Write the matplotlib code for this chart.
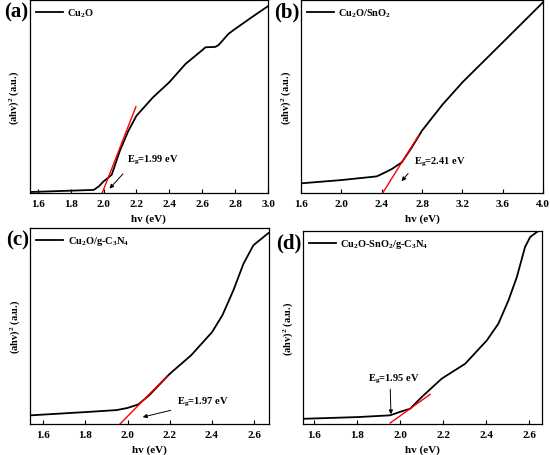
import numpy as np
import matplotlib
matplotlib.use("Agg")
import matplotlib.pyplot as plt

plt.rcParams['font.family'] = ['Liberation Serif', 'DejaVu Serif']
plt.rcParams['font.weight'] = 'bold'
plt.rcParams['mathtext.fontset'] = 'custom'
plt.rcParams['mathtext.rm'] = 'Liberation Serif:bold'
plt.rcParams['mathtext.it'] = 'Liberation Serif:bold'
plt.rcParams['mathtext.bf'] = 'Liberation Serif:bold'
plt.rcParams['mathtext.default'] = 'rm'

# panel (a) Cu2O
xa = [1.55, 1.94, 1.97, 2.0, 2.03, 2.05, 2.1, 2.15, 2.2, 2.3, 2.4, 2.5, 2.6, 2.62, 2.68, 2.7, 2.76, 2.8, 2.9, 3.0]
ya = [0.005, 0.016, 0.033, 0.06, 0.08, 0.095, 0.22, 0.32, 0.40, 0.495, 0.574, 0.67, 0.74, 0.755, 0.757, 0.767, 0.825, 0.85, 0.91, 0.968]
# panel (b) Cu2O/SnO2
xb = [1.6, 2.0, 2.35, 2.4, 2.5, 2.6, 2.7, 2.8, 3.0, 3.2, 3.6, 4.0]
yb = [0.05, 0.067, 0.086, 0.098, 0.124, 0.159, 0.237, 0.323, 0.456, 0.573, 0.78, 0.988]
# panel (c) Cu2O/g-C3N4
xc = [1.537, 1.803, 1.948, 2.0, 2.051, 2.102, 2.201, 2.301, 2.401, 2.45, 2.502, 2.55, 2.597, 2.629, 2.668]
yc = [0.044, 0.061, 0.071, 0.082, 0.10, 0.146, 0.257, 0.35, 0.469, 0.555, 0.682, 0.818, 0.912, 0.94, 0.974]
# panel (d) Cu2O-SnO2/g-C3N4
xd = [1.549, 1.805, 1.953, 2.007, 2.046, 2.1, 2.193, 2.302, 2.403, 2.457, 2.504, 2.543, 2.581, 2.605, 2.643]
yd = [0.027, 0.036, 0.045, 0.066, 0.079, 0.14, 0.235, 0.312, 0.433, 0.52, 0.641, 0.762, 0.917, 0.969, 1.0]

labels = ['Cu$_2$O', 'Cu$_2$O/SnO$_2$', 'Cu$_2$O/g-C$_3$N$_4$', 'Cu$_2$O-SnO$_2$/g-C$_3$N$_4$']
panel_tags = ['(a)', '(b)', '(c)', '(d)']
eg_text = ['E$_g$=1.99 eV', 'E$_g$=2.41 eV', 'E$_g$=1.97 eV', 'E$_g$=1.95 eV']

# tangent lines (x0, y0, x1, y1)
fits = [(1.992, 0.0, 2.197, 0.447),
        (2.41, 0.0, 2.765, 0.297),
        (1.964, 0.0, 2.186, 0.243),
        (1.953, 0.005, 2.139, 0.154)]
# text position, arrow tail, arrow head
notes = [((2.14, 0.163), (2.13, 0.11), (2.025, 0.012)),
         ((2.72, 0.154), (2.68, 0.112), (2.58, 0.05)),
         ((2.233, 0.104), (2.217, 0.073), (2.059, 0.032)),
         ((1.849, 0.226), (1.953, 0.195), (1.957, 0.036))]

xlims = [(1.55, 3.0), (1.6, 4.0), (1.537, 2.671), (1.547, 2.66)]
xticks = [np.arange(1.6, 3.01, 0.2), np.arange(1.6, 4.01, 0.4),
          np.arange(1.6, 2.61, 0.2), np.arange(1.6, 2.61, 0.2)]
boxes = [(29.5, 268, 1, 194), (301, 543, 1, 194),
         (30, 269, 229, 425), (303, 542, 232, 425)]

W, H = 550, 456
fig = plt.figure(figsize=(W / 100, H / 100), dpi=100)

data = [(xa, ya), (xb, yb), (xc, yc), (xd, yd)]
for i in range(4):
    l, r, t, b = boxes[i]
    ax = fig.add_axes([l / W, 1 - b / H, (r - l) / W, (b - t) / H])
    x, y = data[i]
    ax.plot(x, y, color='black', lw=1.3, label=labels[i])
    x0, y0, x1, y1 = fits[i]
    ax.plot([x0, x1], [y0, y1], color='red', lw=1.0)
    tp, tail, head = notes[i]
    ax.text(tp[0], tp[1], eg_text[i], fontsize=7.5, fontweight='bold')
    ax.annotate('', xy=head, xytext=tail,
                arrowprops=dict(arrowstyle='-|>', color='black', lw=0.7, mutation_scale=6))
    ax.set_xlim(*xlims[i])
    ax.set_ylim(0, 1)
    ax.set_xticks(xticks[i])
    ax.set_xticklabels(['%.1f' % v for v in xticks[i]])
    ax.set_yticks([])
    ax.tick_params(axis='x', direction='in', length=3, width=0.8, labelsize=8, pad=4)
    for s in ax.spines.values():
        s.set_linewidth(0.9)
    ax.set_xlabel('hv (eV)', fontsize=8, fontweight='bold', labelpad=4)
    ax.set_ylabel('(ahv)$^2$ (a.u.)', fontsize=7.5, fontweight='bold', labelpad=6)
    ax.legend(loc='upper left', frameon=False, fontsize=7.5, handlelength=2.6,
              borderaxespad=0.2, handletextpad=0.4)
    ax.text(-0.005, 0.99, panel_tags[i], transform=ax.transAxes, ha='right', va='top',
            fontsize=15, fontweight='bold')

fig.savefig('out.png', dpi=100)
